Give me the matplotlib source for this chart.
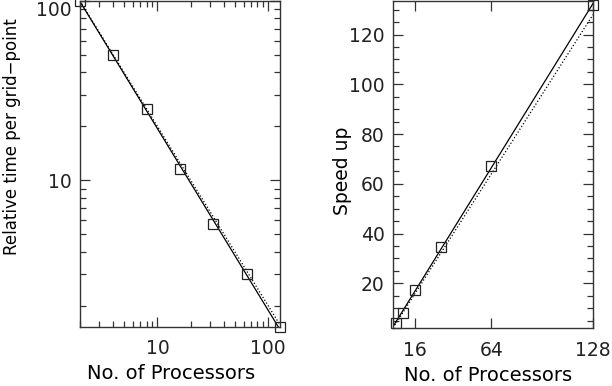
import numpy as np
import matplotlib
matplotlib.use('Agg')
import matplotlib.pyplot as plt
from matplotlib.ticker import LogLocator, FixedLocator, MultipleLocator, NullFormatter, NullLocator

# 读取的数据
procs_time = [2, 4, 8, 16, 32, 64, 128]
rel_time = [100, 49.9, 25.0, 11.5, 5.74, 2.99, 1.52]

procs_speed = [4, 8, 16, 32, 64, 128]
speed_up = [4.0, 8.0, 17.3, 34.6, 67.0, 132.0]

x_line = [2, 128]

ink = '#222222'
plt.rcParams['font.family'] = ['DejaVu Sans']
plt.rcParams['font.size'] = 13.5
plt.rcParams['text.color'] = ink
plt.rcParams['axes.edgecolor'] = '#333333'
plt.rcParams['xtick.color'] = '#333333'
plt.rcParams['ytick.color'] = '#333333'
plt.rcParams['xtick.labelcolor'] = ink
plt.rcParams['ytick.labelcolor'] = ink

fig = plt.figure(figsize=(6.12, 3.86), dpi=100)

#############################################################################
# 左图: 每个网格点的相对时间 (对数坐标)
ax1 = fig.add_axes([80 / 612, 59 / 386, 200 / 612, 326 / 386])
ax1.set_xscale('log')
ax1.set_yscale('log')

# 拟合直线 (对数空间)
p = np.polyfit(np.log10(procs_time), np.log10(rel_time), 1)
xl = np.array(x_line, dtype=float)
ax1.plot(xl, 10 ** np.polyval(p, np.log10(xl)), '-', color='k', lw=0.9)
# 理想情况
ax1.plot(xl, rel_time[0] * procs_time[0] / xl, ':', color='k', lw=0.9)
ax1.plot(procs_time, rel_time, 's', ms=7.5, mfc='none', mec=ink, mew=0.9, clip_on=False)

ax1.set_xlim(2, 128)
ax1.set_ylim(1.52, 100)
ax1.xaxis.set_major_locator(FixedLocator([10, 100]))
ax1.xaxis.set_minor_locator(LogLocator(base=10, subs=np.arange(2, 10)))
ax1.xaxis.set_minor_formatter(NullFormatter())
ax1.set_xticklabels(['10', '100'])
ax1.yaxis.set_major_locator(FixedLocator([10, 100]))
ax1.yaxis.set_minor_locator(LogLocator(base=10, subs=np.arange(2, 10)))
ax1.yaxis.set_minor_formatter(NullFormatter())
ax1.set_yticklabels(['10', '100'])
ax1.get_yticklabels()[-1].set_va('top')

ax1.set_xlabel('No. of Processors', fontsize=14)
ax1.set_ylabel('Relative time per grid\u2212point', fontsize=12)
ax1.xaxis.set_label_coords(0.455, -0.115)
ax1.yaxis.set_label_coords(-0.295, 0.585)

#############################################################################
# 右图: 加速比 (线性坐标)
ax2 = fig.add_axes([393 / 612, 58 / 386, 200 / 612, 327 / 386])

q = np.polyfit(procs_speed, speed_up, 1)
ax2.plot(xl, np.polyval(q, xl), '-', color='k', lw=0.9)
ax2.plot(xl, xl, ':', color='k', lw=0.9)
ax2.plot(procs_speed, speed_up, 's', ms=7.5, mfc='none', mec=ink, mew=0.9, clip_on=False)

ax2.set_xlim(2, 128)
ax2.set_ylim(2, 133.5)
ax2.xaxis.set_major_locator(FixedLocator([16, 64, 128]))
ax2.xaxis.set_minor_locator(NullLocator())
ax2.yaxis.set_major_locator(FixedLocator([20, 40, 60, 80, 100, 120]))
ax2.yaxis.set_minor_locator(MultipleLocator(5))

ax2.set_xlabel('No. of Processors', fontsize=14)
ax2.set_ylabel('Speed up', fontsize=13.5)
ax2.xaxis.set_label_coords(0.475, -0.115)
ax2.yaxis.set_label_coords(-0.205, 0.48)

for ax in (ax1, ax2):
    ax.tick_params(which='both', direction='in', top=True, right=True, width=0.9)
    ax.tick_params(which='major', length=7)
    ax.tick_params(which='minor', length=4)
    ax.tick_params(axis='x', which='both', pad=9)
    ax.tick_params(axis='y', which='both', pad=6)
    for s in ax.spines.values():
        s.set_linewidth(1.0)

fig.savefig('out.png', dpi=100)
